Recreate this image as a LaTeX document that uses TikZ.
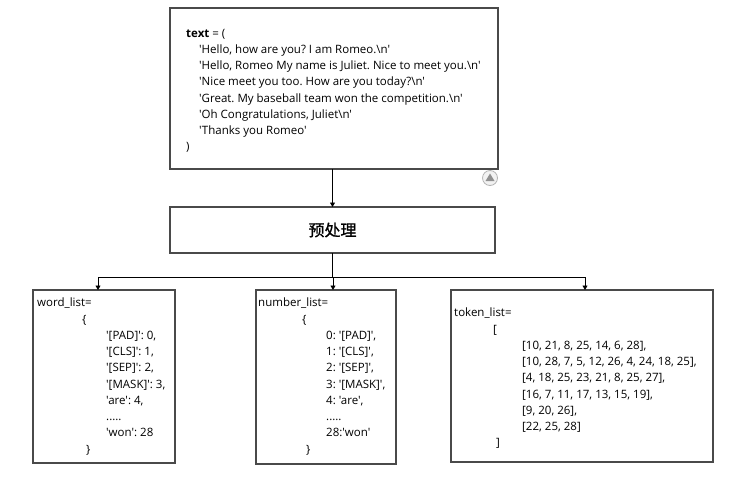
\documentclass[tikz,border=0pt]{standalone}
\usepackage{fontspec}
\newfontfamily\uif{Open Sans}
\newfontfamily\cjk{Noto Sans CJK SC}[FakeBold=1.2]
\usetikzlibrary{arrows.meta}
\definecolor{boxgray}{HTML}{4A4A4A}
\definecolor{iconfill}{HTML}{F2F2F2}
\definecolor{iconline}{HTML}{B4B4B4}
\definecolor{icontri}{HTML}{909090}
\newcommand{\bs}{\textbackslash n}
\frenchspacing
\begin{document}
\begin{tikzpicture}[x=1pt,y=-1pt,
  box/.style={draw=boxgray, line width=1.3pt, inner sep=0pt, outer sep=0pt, anchor=north west, fill=white},
  txt/.style={anchor=north west, inner sep=0pt, align=left, font=\uif\fontsize{11.5}{16.25}\selectfont, text=black},
  conn/.style={draw=black, line width=0.9pt},
  arr/.style={conn, -{Triangle[length=4.5pt,width=5pt]}}]
\useasboundingbox (0,0) rectangle (751,480);
% boxes
\node[box, minimum width=328pt, minimum height=161pt] (top) at (170,8) {};
\node[box, minimum width=325pt, minimum height=46pt] (pre) at (170,207) {};
\node[box, minimum width=142pt, minimum height=173pt] (wl) at (33,290) {};
\node[box, minimum width=140pt, minimum height=174pt] (nl) at (256,290) {};
\node[box, minimum width=262pt, minimum height=172pt] (tl) at (451,290) {};
% texts
\node[txt] (toptext) at (186,25.6) {\strut\textbf{text} = (\\
\hspace*{13pt}'Hello, how are you? I am Romeo.\bs'\\
\hspace*{13pt}'Hello, Romeo My name is Juliet. Nice to meet you.\bs'\\
\hspace*{13pt}'Nice meet you too. How are you today?\bs'\\
\hspace*{13pt}'Great. My baseball team won the competition.\bs'\\
\hspace*{13pt}'Oh Congratulations, Juliet\bs'\\
\hspace*{13pt}'Thanks you Romeo'\\
)};
\node[anchor=center, inner sep=0pt, font=\cjk\fontsize{16}{19}\selectfont] (pretext) at (pre.center) {预处理};
\node[txt] (wltext) at (37,295.3) {\strut word\_list=\\
\hspace*{45pt}\{\\
\hspace*{69pt}'[PAD]': 0,\\
\hspace*{69pt}'[CLS]': 1,\\
\hspace*{69pt}'[SEP]': 2,\\
\hspace*{69pt}'[MASK]': 3,\\
\hspace*{69pt}'are': 4,\\
\hspace*{69pt}.....\\
\hspace*{69pt}'won': 28\\
\hspace*{49pt}\}};
\node[txt] (nltext) at (258,295.3) {\strut number\_list=\\
\hspace*{44pt}\{\\
\hspace*{68pt}0: '[PAD]',\\
\hspace*{68pt}1: '[CLS]',\\
\hspace*{68pt}2: '[SEP]',\\
\hspace*{68pt}3: '[MASK]',\\
\hspace*{68pt}4: 'are',\\
\hspace*{68pt}.....\\
\hspace*{68pt}28:'won'\\
\hspace*{48pt}\}};
\node[txt] (tltext) at (454,305.3) {\strut token\_list=\\
\hspace*{39pt}[\\
\hspace*{68pt}[10, 21, 8, 25, 14, 6, 28],\\
\hspace*{68pt}[10, 28, 7, 5, 12, 26, 4, 24, 18, 25],\\
\hspace*{68pt}[4, 18, 25, 23, 21, 8, 25, 27],\\
\hspace*{68pt}[16, 7, 11, 17, 13, 15, 19],\\
\hspace*{68pt}[9, 20, 26],\\
\hspace*{68pt}[22, 25, 28]\\
\hspace*{42pt}]};
% connectors
\coordinate (j) at (333,277);
\coordinate (jl) at (98,277);
\coordinate (jr) at (585,277);
\draw[arr] (top.south -| pre.north) -- (pre.north);
\draw[conn] (pre.south) -- (pre.south |- j);
\draw[conn] (jl) -- (jr);
\draw[arr] (jl) -- (jl |- wl.north);
\draw[arr] (j) -- (j |- nl.north);
\draw[arr] (jr) -- (jr |- tl.north);
% small icon
\node[circle, draw=iconline, fill=iconfill, line width=0.8pt, minimum size=15pt, inner sep=0pt] (icon) at (490,178) {};
\fill[icontri] ([yshift=4.5pt]icon.center) -- ++(-4.5pt,-7.5pt) -- ++(9pt,0) -- cycle;
\end{tikzpicture}
\end{document}
